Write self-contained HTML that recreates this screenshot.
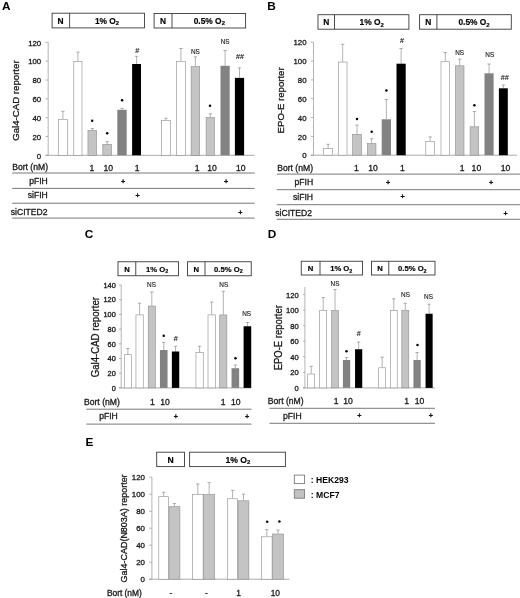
<!DOCTYPE html>
<html lang="en"><head><meta charset="utf-8"><title>Figure</title>
<style>
html,body{margin:0;padding:0;background:#fff;}
body{width:520px;height:598px;overflow:hidden;}
svg{display:block;will-change:transform;font-family:"Liberation Sans", sans-serif;}
</style></head><body>
<svg width="520" height="598" viewBox="0 0 520 598">
<rect width="520" height="598" fill="#fff"/>
<text x="2.00" y="10.20" font-size="11.8" text-anchor="start" font-weight="bold" fill="#000">A</text>
<rect x="52.10" y="13.20" width="92.40" height="14.70" fill="#fff" stroke="#3a3a3a" stroke-width="0.9"/>
<line x1="69.60" y1="13.20" x2="69.60" y2="27.90" stroke="#3a3a3a" stroke-width="0.9"/>
<text x="60.50" y="23.57" font-size="8.4" text-anchor="middle" font-weight="bold" fill="#000" stroke="#000" stroke-width="0.15">N</text>
<text x="107.00" y="23.57" font-size="8.4" text-anchor="middle" font-weight="bold" fill="#000" stroke="#000" stroke-width="0.15">1% O<tspan font-size="70%" dy="1.6">2</tspan></text>
<rect x="154.10" y="13.50" width="91.50" height="14.50" fill="#fff" stroke="#3a3a3a" stroke-width="0.9"/>
<line x1="172.00" y1="13.50" x2="172.00" y2="28.00" stroke="#3a3a3a" stroke-width="0.9"/>
<text x="163.00" y="23.77" font-size="8.4" text-anchor="middle" font-weight="bold" fill="#000" stroke="#000" stroke-width="0.15">N</text>
<text x="209.30" y="23.77" font-size="8.4" text-anchor="middle" font-weight="bold" fill="#000" stroke="#000" stroke-width="0.15">0.5% O<tspan font-size="70%" dy="1.6">2</tspan></text>
<line x1="48.20" y1="42.38" x2="48.20" y2="155.30" stroke="#969696" stroke-width="0.7"/>
<line x1="45.50" y1="155.30" x2="254.70" y2="155.30" stroke="#969696" stroke-width="0.8"/>
<line x1="45.50" y1="155.30" x2="48.20" y2="155.30" stroke="#969696" stroke-width="0.7"/>
<text x="41.20" y="158.50" font-size="7.8" text-anchor="end" stroke="#222" stroke-width="0.3" fill="#111">0</text>
<line x1="46.90" y1="145.89" x2="48.20" y2="145.89" stroke="#c4c4c4" stroke-width="0.5"/>
<line x1="45.50" y1="136.48" x2="48.20" y2="136.48" stroke="#969696" stroke-width="0.7"/>
<text x="41.20" y="139.68" font-size="7.8" text-anchor="end" stroke="#222" stroke-width="0.3" fill="#111">20</text>
<line x1="46.90" y1="127.07" x2="48.20" y2="127.07" stroke="#c4c4c4" stroke-width="0.5"/>
<line x1="45.50" y1="117.66" x2="48.20" y2="117.66" stroke="#969696" stroke-width="0.7"/>
<text x="41.20" y="120.86" font-size="7.8" text-anchor="end" stroke="#222" stroke-width="0.3" fill="#111">40</text>
<line x1="46.90" y1="108.25" x2="48.20" y2="108.25" stroke="#c4c4c4" stroke-width="0.5"/>
<line x1="45.50" y1="98.84" x2="48.20" y2="98.84" stroke="#969696" stroke-width="0.7"/>
<text x="41.20" y="102.04" font-size="7.8" text-anchor="end" stroke="#222" stroke-width="0.3" fill="#111">60</text>
<line x1="46.90" y1="89.43" x2="48.20" y2="89.43" stroke="#c4c4c4" stroke-width="0.5"/>
<line x1="45.50" y1="80.02" x2="48.20" y2="80.02" stroke="#969696" stroke-width="0.7"/>
<text x="41.20" y="83.22" font-size="7.8" text-anchor="end" stroke="#222" stroke-width="0.3" fill="#111">80</text>
<line x1="46.90" y1="70.61" x2="48.20" y2="70.61" stroke="#c4c4c4" stroke-width="0.5"/>
<line x1="45.50" y1="61.20" x2="48.20" y2="61.20" stroke="#969696" stroke-width="0.7"/>
<text x="41.20" y="64.40" font-size="7.8" text-anchor="end" stroke="#222" stroke-width="0.3" fill="#111">100</text>
<line x1="46.90" y1="51.79" x2="48.20" y2="51.79" stroke="#c4c4c4" stroke-width="0.5"/>
<line x1="45.50" y1="42.38" x2="48.20" y2="42.38" stroke="#969696" stroke-width="0.7"/>
<text x="41.20" y="45.58" font-size="7.8" text-anchor="end" stroke="#222" stroke-width="0.3" fill="#111">120</text>
<text transform="translate(18.60,100.60) rotate(-90)" font-size="9.5" text-anchor="middle" fill="#111" stroke="#222" stroke-width="0.3" textLength="80.5" lengthAdjust="spacingAndGlyphs">Gal4-CAD reporter</text>
<line x1="62.90" y1="111.30" x2="62.90" y2="119.00" stroke="#747474" stroke-width="0.55"/>
<line x1="61.20" y1="111.30" x2="64.60" y2="111.30" stroke="#747474" stroke-width="0.55"/>
<rect x="58.40" y="119.30" width="9.00" height="36.00" fill="#ffffff" stroke="#8e8e8e" stroke-width="0.6"/>
<line x1="77.90" y1="52.10" x2="77.90" y2="61.30" stroke="#747474" stroke-width="0.55"/>
<line x1="76.20" y1="52.10" x2="79.60" y2="52.10" stroke="#747474" stroke-width="0.55"/>
<rect x="73.80" y="61.60" width="8.20" height="93.70" fill="#ffffff" stroke="#8e8e8e" stroke-width="0.6"/>
<line x1="92.28" y1="128.50" x2="92.28" y2="130.20" stroke="#747474" stroke-width="0.55"/>
<line x1="90.58" y1="128.50" x2="93.98" y2="128.50" stroke="#747474" stroke-width="0.55"/>
<rect x="87.95" y="130.50" width="8.65" height="24.80" fill="#c4c4c4" stroke="#8e8e8e" stroke-width="0.6"/>
<line x1="107.12" y1="141.60" x2="107.12" y2="144.00" stroke="#747474" stroke-width="0.55"/>
<line x1="105.42" y1="141.60" x2="108.83" y2="141.60" stroke="#747474" stroke-width="0.55"/>
<rect x="102.80" y="144.30" width="8.65" height="11.00" fill="#c4c4c4" stroke="#8e8e8e" stroke-width="0.6"/>
<line x1="122.00" y1="108.40" x2="122.00" y2="109.80" stroke="#747474" stroke-width="0.55"/>
<line x1="120.30" y1="108.40" x2="123.70" y2="108.40" stroke="#747474" stroke-width="0.55"/>
<rect x="117.30" y="109.80" width="9.40" height="45.50" fill="#828282"/>
<line x1="136.55" y1="56.30" x2="136.55" y2="64.00" stroke="#747474" stroke-width="0.55"/>
<line x1="134.85" y1="56.30" x2="138.25" y2="56.30" stroke="#747474" stroke-width="0.55"/>
<rect x="132.10" y="64.00" width="8.90" height="91.30" fill="#000000"/>
<line x1="165.95" y1="118.20" x2="165.95" y2="120.30" stroke="#747474" stroke-width="0.55"/>
<line x1="164.25" y1="118.20" x2="167.65" y2="118.20" stroke="#747474" stroke-width="0.55"/>
<rect x="161.60" y="120.60" width="8.70" height="34.70" fill="#ffffff" stroke="#8e8e8e" stroke-width="0.6"/>
<line x1="180.95" y1="48.50" x2="180.95" y2="61.00" stroke="#747474" stroke-width="0.55"/>
<line x1="179.25" y1="48.50" x2="182.65" y2="48.50" stroke="#747474" stroke-width="0.55"/>
<rect x="176.60" y="61.30" width="8.70" height="94.00" fill="#ffffff" stroke="#8e8e8e" stroke-width="0.6"/>
<line x1="195.40" y1="56.80" x2="195.40" y2="66.30" stroke="#747474" stroke-width="0.55"/>
<line x1="193.70" y1="56.80" x2="197.10" y2="56.80" stroke="#747474" stroke-width="0.55"/>
<rect x="191.10" y="66.60" width="8.60" height="88.70" fill="#c4c4c4" stroke="#8e8e8e" stroke-width="0.6"/>
<line x1="210.25" y1="113.80" x2="210.25" y2="117.30" stroke="#747474" stroke-width="0.55"/>
<line x1="208.55" y1="113.80" x2="211.95" y2="113.80" stroke="#747474" stroke-width="0.55"/>
<rect x="206.10" y="117.60" width="8.30" height="37.70" fill="#c4c4c4" stroke="#8e8e8e" stroke-width="0.6"/>
<line x1="225.10" y1="50.50" x2="225.10" y2="65.80" stroke="#747474" stroke-width="0.55"/>
<line x1="223.40" y1="50.50" x2="226.80" y2="50.50" stroke="#747474" stroke-width="0.55"/>
<rect x="220.50" y="65.80" width="9.20" height="89.50" fill="#828282"/>
<line x1="239.50" y1="67.80" x2="239.50" y2="77.90" stroke="#747474" stroke-width="0.55"/>
<line x1="237.80" y1="67.80" x2="241.20" y2="67.80" stroke="#747474" stroke-width="0.55"/>
<rect x="234.90" y="77.90" width="9.20" height="77.40" fill="#000000"/>
<circle cx="92.20" cy="120.70" r="1.25" fill="#000"/>
<circle cx="107.20" cy="133.30" r="1.25" fill="#000"/>
<circle cx="122.10" cy="100.20" r="1.25" fill="#000"/>
<text x="137.30" y="52.59" font-size="7.2" text-anchor="middle" fill="#111" stroke="#222" stroke-width="0.12">#</text>
<text x="195.40" y="53.80" font-size="6.4" text-anchor="middle" fill="#111" stroke="#222" stroke-width="0.12">NS</text>
<circle cx="210.00" cy="105.80" r="1.25" fill="#000"/>
<text x="225.10" y="44.30" font-size="6.4" text-anchor="middle" fill="#111" stroke="#222" stroke-width="0.12">NS</text>
<text x="240.00" y="59.39" font-size="7.2" text-anchor="middle" fill="#111" stroke="#222" stroke-width="0.12">##</text>
<line x1="12.20" y1="173.00" x2="254.70" y2="173.00" stroke="#555" stroke-width="0.8"/>
<line x1="12.20" y1="188.40" x2="254.70" y2="188.40" stroke="#555" stroke-width="0.8"/>
<line x1="12.20" y1="203.20" x2="254.70" y2="203.20" stroke="#555" stroke-width="0.8"/>
<line x1="12.20" y1="218.10" x2="254.70" y2="218.10" stroke="#555" stroke-width="0.8"/>
<text x="12.20" y="170.30" font-size="8.6" text-anchor="start" stroke="#222" stroke-width="0.3" fill="#111">Bort (nM)</text>
<text x="47.80" y="183.80" font-size="8.6" text-anchor="end" stroke="#222" stroke-width="0.3" fill="#111">pFIH</text>
<text x="47.80" y="198.00" font-size="8.6" text-anchor="end" stroke="#222" stroke-width="0.3" fill="#111">siFIH</text>
<text x="47.60" y="215.20" font-size="8.6" text-anchor="end" stroke="#222" stroke-width="0.3" fill="#111">siCITED2</text>
<text x="91.80" y="170.60" font-size="8.6" text-anchor="middle" stroke="#222" stroke-width="0.3" fill="#111">1</text>
<text x="108.20" y="170.60" font-size="8.6" text-anchor="middle" stroke="#222" stroke-width="0.3" fill="#111">10</text>
<text x="137.20" y="170.60" font-size="8.6" text-anchor="middle" stroke="#222" stroke-width="0.3" fill="#111">1</text>
<text x="197.10" y="170.50" font-size="8.6" text-anchor="middle" stroke="#222" stroke-width="0.3" fill="#111">1</text>
<text x="212.10" y="170.50" font-size="8.6" text-anchor="middle" stroke="#222" stroke-width="0.3" fill="#111">10</text>
<text x="240.80" y="170.50" font-size="8.6" text-anchor="middle" stroke="#222" stroke-width="0.3" fill="#111">10</text>
<text x="123.00" y="183.50" font-size="7.2" text-anchor="middle" fill="#111" stroke="#111" stroke-width="0.45">+</text>
<text x="226.00" y="183.50" font-size="7.2" text-anchor="middle" fill="#111" stroke="#111" stroke-width="0.45">+</text>
<text x="137.70" y="197.70" font-size="7.2" text-anchor="middle" fill="#111" stroke="#111" stroke-width="0.45">+</text>
<text x="240.40" y="214.90" font-size="7.2" text-anchor="middle" fill="#111" stroke="#111" stroke-width="0.45">+</text>
<text x="267.20" y="10.00" font-size="11.8" text-anchor="start" font-weight="bold" fill="#000">B</text>
<rect x="318.00" y="14.70" width="90.90" height="14.50" fill="#fff" stroke="#3a3a3a" stroke-width="0.9"/>
<line x1="334.50" y1="14.70" x2="334.50" y2="29.20" stroke="#3a3a3a" stroke-width="0.9"/>
<text x="326.20" y="24.97" font-size="8.4" text-anchor="middle" font-weight="bold" fill="#000" stroke="#000" stroke-width="0.15">N</text>
<text x="371.70" y="24.97" font-size="8.4" text-anchor="middle" font-weight="bold" fill="#000" stroke="#000" stroke-width="0.15">1% O<tspan font-size="70%" dy="1.6">2</tspan></text>
<rect x="419.60" y="14.70" width="91.70" height="14.50" fill="#fff" stroke="#3a3a3a" stroke-width="0.9"/>
<line x1="436.90" y1="14.70" x2="436.90" y2="29.20" stroke="#3a3a3a" stroke-width="0.9"/>
<text x="428.20" y="24.97" font-size="8.4" text-anchor="middle" font-weight="bold" fill="#000" stroke="#000" stroke-width="0.15">N</text>
<text x="474.00" y="24.97" font-size="8.4" text-anchor="middle" font-weight="bold" fill="#000" stroke="#000" stroke-width="0.15">0.5% O<tspan font-size="70%" dy="1.6">2</tspan></text>
<line x1="313.50" y1="42.28" x2="313.50" y2="155.20" stroke="#969696" stroke-width="0.7"/>
<line x1="310.80" y1="155.20" x2="517.00" y2="155.20" stroke="#969696" stroke-width="0.8"/>
<line x1="310.80" y1="155.20" x2="313.50" y2="155.20" stroke="#969696" stroke-width="0.7"/>
<text x="306.50" y="158.40" font-size="7.8" text-anchor="end" stroke="#222" stroke-width="0.3" fill="#111">0</text>
<line x1="312.20" y1="145.79" x2="313.50" y2="145.79" stroke="#c4c4c4" stroke-width="0.5"/>
<line x1="310.80" y1="136.38" x2="313.50" y2="136.38" stroke="#969696" stroke-width="0.7"/>
<text x="306.50" y="139.58" font-size="7.8" text-anchor="end" stroke="#222" stroke-width="0.3" fill="#111">20</text>
<line x1="312.20" y1="126.97" x2="313.50" y2="126.97" stroke="#c4c4c4" stroke-width="0.5"/>
<line x1="310.80" y1="117.56" x2="313.50" y2="117.56" stroke="#969696" stroke-width="0.7"/>
<text x="306.50" y="120.76" font-size="7.8" text-anchor="end" stroke="#222" stroke-width="0.3" fill="#111">40</text>
<line x1="312.20" y1="108.15" x2="313.50" y2="108.15" stroke="#c4c4c4" stroke-width="0.5"/>
<line x1="310.80" y1="98.74" x2="313.50" y2="98.74" stroke="#969696" stroke-width="0.7"/>
<text x="306.50" y="101.94" font-size="7.8" text-anchor="end" stroke="#222" stroke-width="0.3" fill="#111">60</text>
<line x1="312.20" y1="89.33" x2="313.50" y2="89.33" stroke="#c4c4c4" stroke-width="0.5"/>
<line x1="310.80" y1="79.92" x2="313.50" y2="79.92" stroke="#969696" stroke-width="0.7"/>
<text x="306.50" y="83.12" font-size="7.8" text-anchor="end" stroke="#222" stroke-width="0.3" fill="#111">80</text>
<line x1="312.20" y1="70.51" x2="313.50" y2="70.51" stroke="#c4c4c4" stroke-width="0.5"/>
<line x1="310.80" y1="61.10" x2="313.50" y2="61.10" stroke="#969696" stroke-width="0.7"/>
<text x="306.50" y="64.30" font-size="7.8" text-anchor="end" stroke="#222" stroke-width="0.3" fill="#111">100</text>
<line x1="312.20" y1="51.69" x2="313.50" y2="51.69" stroke="#c4c4c4" stroke-width="0.5"/>
<line x1="310.80" y1="42.28" x2="313.50" y2="42.28" stroke="#969696" stroke-width="0.7"/>
<text x="306.50" y="45.48" font-size="7.8" text-anchor="end" stroke="#222" stroke-width="0.3" fill="#111">120</text>
<text transform="translate(283.70,100.40) rotate(-90)" font-size="9.5" text-anchor="middle" fill="#111" stroke="#222" stroke-width="0.3" textLength="66" lengthAdjust="spacingAndGlyphs">EPO-E reporter</text>
<line x1="328.15" y1="144.30" x2="328.15" y2="148.10" stroke="#747474" stroke-width="0.55"/>
<line x1="326.45" y1="144.30" x2="329.85" y2="144.30" stroke="#747474" stroke-width="0.55"/>
<rect x="323.70" y="148.40" width="8.90" height="6.80" fill="#ffffff" stroke="#8e8e8e" stroke-width="0.6"/>
<line x1="342.70" y1="44.25" x2="342.70" y2="61.75" stroke="#747474" stroke-width="0.55"/>
<line x1="341.00" y1="44.25" x2="344.40" y2="44.25" stroke="#747474" stroke-width="0.55"/>
<rect x="338.40" y="62.05" width="8.60" height="93.15" fill="#ffffff" stroke="#8e8e8e" stroke-width="0.6"/>
<line x1="357.02" y1="125.00" x2="357.02" y2="134.00" stroke="#747474" stroke-width="0.55"/>
<line x1="355.32" y1="125.00" x2="358.72" y2="125.00" stroke="#747474" stroke-width="0.55"/>
<rect x="352.60" y="134.30" width="8.85" height="20.90" fill="#c4c4c4" stroke="#8e8e8e" stroke-width="0.6"/>
<line x1="371.62" y1="138.75" x2="371.62" y2="143.25" stroke="#747474" stroke-width="0.55"/>
<line x1="369.93" y1="138.75" x2="373.32" y2="138.75" stroke="#747474" stroke-width="0.55"/>
<rect x="367.30" y="143.55" width="8.65" height="11.65" fill="#c4c4c4" stroke="#8e8e8e" stroke-width="0.6"/>
<line x1="386.35" y1="99.50" x2="386.35" y2="119.30" stroke="#747474" stroke-width="0.55"/>
<line x1="384.65" y1="99.50" x2="388.05" y2="99.50" stroke="#747474" stroke-width="0.55"/>
<rect x="381.70" y="119.30" width="9.30" height="35.90" fill="#828282"/>
<line x1="401.10" y1="48.50" x2="401.10" y2="63.70" stroke="#747474" stroke-width="0.55"/>
<line x1="399.40" y1="48.50" x2="402.80" y2="48.50" stroke="#747474" stroke-width="0.55"/>
<rect x="396.50" y="63.70" width="9.20" height="91.50" fill="#000000"/>
<line x1="430.20" y1="136.90" x2="430.20" y2="141.30" stroke="#747474" stroke-width="0.55"/>
<line x1="428.50" y1="136.90" x2="431.90" y2="136.90" stroke="#747474" stroke-width="0.55"/>
<rect x="425.80" y="141.60" width="8.80" height="13.60" fill="#ffffff" stroke="#8e8e8e" stroke-width="0.6"/>
<line x1="445.30" y1="52.50" x2="445.30" y2="61.40" stroke="#747474" stroke-width="0.55"/>
<line x1="443.60" y1="52.50" x2="447.00" y2="52.50" stroke="#747474" stroke-width="0.55"/>
<rect x="441.00" y="61.70" width="8.60" height="93.50" fill="#ffffff" stroke="#8e8e8e" stroke-width="0.6"/>
<line x1="459.70" y1="59.10" x2="459.70" y2="65.50" stroke="#747474" stroke-width="0.55"/>
<line x1="458.00" y1="59.10" x2="461.40" y2="59.10" stroke="#747474" stroke-width="0.55"/>
<rect x="455.40" y="65.80" width="8.60" height="89.40" fill="#c4c4c4" stroke="#8e8e8e" stroke-width="0.6"/>
<line x1="474.40" y1="111.50" x2="474.40" y2="126.50" stroke="#747474" stroke-width="0.55"/>
<line x1="472.70" y1="111.50" x2="476.10" y2="111.50" stroke="#747474" stroke-width="0.55"/>
<rect x="470.10" y="126.80" width="8.60" height="28.40" fill="#c4c4c4" stroke="#8e8e8e" stroke-width="0.6"/>
<line x1="489.05" y1="64.00" x2="489.05" y2="73.30" stroke="#747474" stroke-width="0.55"/>
<line x1="487.35" y1="64.00" x2="490.75" y2="64.00" stroke="#747474" stroke-width="0.55"/>
<rect x="484.50" y="73.30" width="9.10" height="81.90" fill="#828282"/>
<line x1="503.35" y1="85.00" x2="503.35" y2="88.30" stroke="#747474" stroke-width="0.55"/>
<line x1="501.65" y1="85.00" x2="505.05" y2="85.00" stroke="#747474" stroke-width="0.55"/>
<rect x="498.90" y="88.30" width="8.90" height="66.90" fill="#000000"/>
<circle cx="357.00" cy="118.90" r="1.25" fill="#000"/>
<circle cx="371.70" cy="131.75" r="1.25" fill="#000"/>
<circle cx="386.40" cy="90.60" r="1.25" fill="#000"/>
<text x="402.00" y="42.99" font-size="7.2" text-anchor="middle" fill="#111" stroke="#222" stroke-width="0.12">#</text>
<text x="459.70" y="54.80" font-size="6.4" text-anchor="middle" fill="#111" stroke="#222" stroke-width="0.12">NS</text>
<circle cx="474.40" cy="105.30" r="1.25" fill="#000"/>
<text x="489.80" y="57.10" font-size="6.4" text-anchor="middle" fill="#111" stroke="#222" stroke-width="0.12">NS</text>
<text x="504.80" y="79.59" font-size="7.2" text-anchor="middle" fill="#111" stroke="#222" stroke-width="0.12">##</text>
<line x1="276.80" y1="174.10" x2="520.00" y2="174.10" stroke="#555" stroke-width="0.8"/>
<line x1="276.80" y1="189.70" x2="520.00" y2="189.70" stroke="#555" stroke-width="0.8"/>
<line x1="276.80" y1="204.70" x2="520.00" y2="204.70" stroke="#555" stroke-width="0.8"/>
<line x1="276.80" y1="219.30" x2="520.00" y2="219.30" stroke="#555" stroke-width="0.8"/>
<text x="277.20" y="171.40" font-size="8.6" text-anchor="start" stroke="#222" stroke-width="0.3" fill="#111">Bort (nM)</text>
<text x="313.10" y="185.20" font-size="8.6" text-anchor="end" stroke="#222" stroke-width="0.3" fill="#111">pFIH</text>
<text x="313.10" y="199.70" font-size="8.6" text-anchor="end" stroke="#222" stroke-width="0.3" fill="#111">siFIH</text>
<text x="312.00" y="216.40" font-size="8.6" text-anchor="end" stroke="#222" stroke-width="0.3" fill="#111">siCITED2</text>
<text x="356.30" y="171.40" font-size="8.6" text-anchor="middle" stroke="#222" stroke-width="0.3" fill="#111">1</text>
<text x="373.00" y="171.40" font-size="8.6" text-anchor="middle" stroke="#222" stroke-width="0.3" fill="#111">10</text>
<text x="402.30" y="171.40" font-size="8.6" text-anchor="middle" stroke="#222" stroke-width="0.3" fill="#111">1</text>
<text x="462.20" y="171.40" font-size="8.6" text-anchor="middle" stroke="#222" stroke-width="0.3" fill="#111">1</text>
<text x="476.40" y="171.40" font-size="8.6" text-anchor="middle" stroke="#222" stroke-width="0.3" fill="#111">10</text>
<text x="505.50" y="171.40" font-size="8.6" text-anchor="middle" stroke="#222" stroke-width="0.3" fill="#111">10</text>
<text x="388.20" y="184.90" font-size="7.2" text-anchor="middle" fill="#111" stroke="#111" stroke-width="0.45">+</text>
<text x="491.10" y="184.90" font-size="7.2" text-anchor="middle" fill="#111" stroke="#111" stroke-width="0.45">+</text>
<text x="402.60" y="199.40" font-size="7.2" text-anchor="middle" fill="#111" stroke="#111" stroke-width="0.45">+</text>
<text x="505.60" y="216.10" font-size="7.2" text-anchor="middle" fill="#111" stroke="#111" stroke-width="0.45">+</text>
<text x="84.80" y="238.40" font-size="11.8" text-anchor="start" font-weight="bold" fill="#000">C</text>
<rect x="118.00" y="261.75" width="60.50" height="14.00" fill="#fff" stroke="#3a3a3a" stroke-width="0.9"/>
<line x1="135.75" y1="261.75" x2="135.75" y2="275.75" stroke="#3a3a3a" stroke-width="0.9"/>
<text x="127.00" y="271.52" font-size="7.7" text-anchor="middle" font-weight="bold" fill="#000" stroke="#000" stroke-width="0.15">N</text>
<text x="157.10" y="271.52" font-size="7.7" text-anchor="middle" font-weight="bold" fill="#000" stroke="#000" stroke-width="0.15">1% O<tspan font-size="70%" dy="1.6">2</tspan></text>
<rect x="187.50" y="261.75" width="63.75" height="14.00" fill="#fff" stroke="#3a3a3a" stroke-width="0.9"/>
<line x1="205.00" y1="261.75" x2="205.00" y2="275.75" stroke="#3a3a3a" stroke-width="0.9"/>
<text x="196.20" y="271.52" font-size="7.7" text-anchor="middle" font-weight="bold" fill="#000" stroke="#000" stroke-width="0.15">N</text>
<text x="228.40" y="271.52" font-size="7.7" text-anchor="middle" font-weight="bold" fill="#000" stroke="#000" stroke-width="0.15">0.5% O<tspan font-size="70%" dy="1.6">2</tspan></text>
<line x1="121.20" y1="285.00" x2="121.20" y2="387.90" stroke="#969696" stroke-width="0.7"/>
<line x1="118.90" y1="387.90" x2="251.50" y2="387.90" stroke="#969696" stroke-width="0.8"/>
<line x1="118.90" y1="387.90" x2="121.20" y2="387.90" stroke="#969696" stroke-width="0.7"/>
<text transform="translate(115.80,390.68) scale(1.1,1)" font-size="6.7" text-anchor="end" stroke="#222" stroke-width="0.3" fill="#111">0</text>
<line x1="118.90" y1="373.20" x2="121.20" y2="373.20" stroke="#969696" stroke-width="0.7"/>
<text transform="translate(115.80,375.98) scale(1.1,1)" font-size="6.7" text-anchor="end" stroke="#222" stroke-width="0.3" fill="#111">20</text>
<line x1="118.90" y1="358.50" x2="121.20" y2="358.50" stroke="#969696" stroke-width="0.7"/>
<text transform="translate(115.80,361.28) scale(1.1,1)" font-size="6.7" text-anchor="end" stroke="#222" stroke-width="0.3" fill="#111">40</text>
<line x1="118.90" y1="343.80" x2="121.20" y2="343.80" stroke="#969696" stroke-width="0.7"/>
<text transform="translate(115.80,346.58) scale(1.1,1)" font-size="6.7" text-anchor="end" stroke="#222" stroke-width="0.3" fill="#111">60</text>
<line x1="118.90" y1="329.10" x2="121.20" y2="329.10" stroke="#969696" stroke-width="0.7"/>
<text transform="translate(115.80,331.88) scale(1.1,1)" font-size="6.7" text-anchor="end" stroke="#222" stroke-width="0.3" fill="#111">80</text>
<line x1="118.90" y1="314.40" x2="121.20" y2="314.40" stroke="#969696" stroke-width="0.7"/>
<text transform="translate(115.80,317.18) scale(1.1,1)" font-size="6.7" text-anchor="end" stroke="#222" stroke-width="0.3" fill="#111">100</text>
<line x1="118.90" y1="299.70" x2="121.20" y2="299.70" stroke="#969696" stroke-width="0.7"/>
<text transform="translate(115.80,302.48) scale(1.1,1)" font-size="6.7" text-anchor="end" stroke="#222" stroke-width="0.3" fill="#111">120</text>
<line x1="118.90" y1="285.00" x2="121.20" y2="285.00" stroke="#969696" stroke-width="0.7"/>
<text transform="translate(115.80,287.78) scale(1.1,1)" font-size="6.7" text-anchor="end" stroke="#222" stroke-width="0.3" fill="#111">140</text>
<text transform="translate(99.20,337.20) rotate(-90)" font-size="10.2" text-anchor="middle" fill="#111" stroke="#222" stroke-width="0.3" textLength="80.3" lengthAdjust="spacingAndGlyphs">Gal4-CAD reporter</text>
<line x1="127.90" y1="348.50" x2="127.90" y2="354.40" stroke="#747474" stroke-width="0.55"/>
<line x1="126.20" y1="348.50" x2="129.60" y2="348.50" stroke="#747474" stroke-width="0.55"/>
<rect x="124.30" y="354.70" width="7.20" height="33.20" fill="#ffffff" stroke="#8e8e8e" stroke-width="0.6"/>
<line x1="139.60" y1="303.25" x2="139.60" y2="314.60" stroke="#747474" stroke-width="0.55"/>
<line x1="137.90" y1="303.25" x2="141.30" y2="303.25" stroke="#747474" stroke-width="0.55"/>
<rect x="135.95" y="314.90" width="7.30" height="73.00" fill="#ffffff" stroke="#8e8e8e" stroke-width="0.6"/>
<line x1="151.80" y1="292.00" x2="151.80" y2="305.75" stroke="#747474" stroke-width="0.55"/>
<line x1="150.10" y1="292.00" x2="153.50" y2="292.00" stroke="#747474" stroke-width="0.55"/>
<rect x="148.25" y="306.05" width="7.10" height="81.85" fill="#c4c4c4" stroke="#8e8e8e" stroke-width="0.6"/>
<line x1="163.75" y1="342.50" x2="163.75" y2="350.00" stroke="#747474" stroke-width="0.55"/>
<line x1="162.05" y1="342.50" x2="165.45" y2="342.50" stroke="#747474" stroke-width="0.55"/>
<rect x="159.95" y="350.00" width="7.60" height="37.90" fill="#828282"/>
<line x1="175.55" y1="346.25" x2="175.55" y2="351.50" stroke="#747474" stroke-width="0.55"/>
<line x1="173.85" y1="346.25" x2="177.25" y2="346.25" stroke="#747474" stroke-width="0.55"/>
<rect x="171.85" y="351.50" width="7.40" height="36.40" fill="#000000"/>
<line x1="199.60" y1="346.25" x2="199.60" y2="352.30" stroke="#747474" stroke-width="0.55"/>
<line x1="197.90" y1="346.25" x2="201.30" y2="346.25" stroke="#747474" stroke-width="0.55"/>
<rect x="195.95" y="352.60" width="7.30" height="35.30" fill="#ffffff" stroke="#8e8e8e" stroke-width="0.6"/>
<line x1="211.65" y1="302.00" x2="211.65" y2="314.60" stroke="#747474" stroke-width="0.55"/>
<line x1="209.95" y1="302.00" x2="213.35" y2="302.00" stroke="#747474" stroke-width="0.55"/>
<rect x="208.00" y="314.90" width="7.30" height="73.00" fill="#ffffff" stroke="#8e8e8e" stroke-width="0.6"/>
<line x1="223.30" y1="291.25" x2="223.30" y2="314.60" stroke="#747474" stroke-width="0.55"/>
<line x1="221.60" y1="291.25" x2="225.00" y2="291.25" stroke="#747474" stroke-width="0.55"/>
<rect x="219.75" y="314.90" width="7.10" height="73.00" fill="#c4c4c4" stroke="#8e8e8e" stroke-width="0.6"/>
<line x1="235.35" y1="365.00" x2="235.35" y2="368.20" stroke="#747474" stroke-width="0.55"/>
<line x1="233.65" y1="365.00" x2="237.05" y2="365.00" stroke="#747474" stroke-width="0.55"/>
<rect x="231.55" y="368.20" width="7.60" height="19.70" fill="#828282"/>
<line x1="247.40" y1="322.50" x2="247.40" y2="326.25" stroke="#747474" stroke-width="0.55"/>
<line x1="245.70" y1="322.50" x2="249.10" y2="322.50" stroke="#747474" stroke-width="0.55"/>
<rect x="243.60" y="326.25" width="7.60" height="61.65" fill="#000000"/>
<text x="151.50" y="286.70" font-size="6.4" text-anchor="middle" fill="#111" stroke="#222" stroke-width="0.12">NS</text>
<circle cx="163.75" cy="335.75" r="1.25" fill="#000"/>
<text x="175.75" y="341.34" font-size="7.2" text-anchor="middle" fill="#111" stroke="#222" stroke-width="0.12">#</text>
<text x="223.75" y="287.30" font-size="6.4" text-anchor="middle" fill="#111" stroke="#222" stroke-width="0.12">NS</text>
<circle cx="235.50" cy="358.25" r="1.25" fill="#000"/>
<text x="246.60" y="315.55" font-size="6.4" text-anchor="middle" fill="#111" stroke="#222" stroke-width="0.12">NS</text>
<line x1="86.30" y1="409.20" x2="251.50" y2="409.20" stroke="#555" stroke-width="0.8"/>
<line x1="86.30" y1="424.10" x2="251.50" y2="424.10" stroke="#555" stroke-width="0.8"/>
<text x="84.00" y="404.80" font-size="8.6" text-anchor="start" stroke="#222" stroke-width="0.3" fill="#111">Bort (nM)</text>
<text x="117.80" y="419.20" font-size="8.6" text-anchor="end" stroke="#222" stroke-width="0.3" fill="#111">pFIH</text>
<text x="152.50" y="404.80" font-size="8.6" text-anchor="middle" stroke="#222" stroke-width="0.3" fill="#111">1</text>
<text x="165.00" y="404.80" font-size="8.6" text-anchor="middle" stroke="#222" stroke-width="0.3" fill="#111">10</text>
<text x="223.25" y="404.80" font-size="8.6" text-anchor="middle" stroke="#222" stroke-width="0.3" fill="#111">1</text>
<text x="235.75" y="404.80" font-size="8.6" text-anchor="middle" stroke="#222" stroke-width="0.3" fill="#111">10</text>
<text x="175.75" y="418.90" font-size="7.2" text-anchor="middle" fill="#111" stroke="#111" stroke-width="0.45">+</text>
<text x="247.00" y="418.90" font-size="7.2" text-anchor="middle" fill="#111" stroke="#111" stroke-width="0.45">+</text>
<text x="267.80" y="238.40" font-size="11.8" text-anchor="start" font-weight="bold" fill="#000">D</text>
<rect x="301.25" y="261.25" width="61.25" height="13.75" fill="#fff" stroke="#3a3a3a" stroke-width="0.9"/>
<line x1="320.00" y1="261.25" x2="320.00" y2="275.00" stroke="#3a3a3a" stroke-width="0.9"/>
<text x="310.60" y="270.90" font-size="7.7" text-anchor="middle" font-weight="bold" fill="#000" stroke="#000" stroke-width="0.15">N</text>
<text x="341.25" y="270.90" font-size="7.7" text-anchor="middle" font-weight="bold" fill="#000" stroke="#000" stroke-width="0.15">1% O<tspan font-size="70%" dy="1.6">2</tspan></text>
<rect x="371.50" y="261.25" width="63.50" height="13.75" fill="#fff" stroke="#3a3a3a" stroke-width="0.9"/>
<line x1="388.75" y1="261.25" x2="388.75" y2="275.00" stroke="#3a3a3a" stroke-width="0.9"/>
<text x="380.10" y="270.90" font-size="7.7" text-anchor="middle" font-weight="bold" fill="#000" stroke="#000" stroke-width="0.15">N</text>
<text x="412.30" y="270.90" font-size="7.7" text-anchor="middle" font-weight="bold" fill="#000" stroke="#000" stroke-width="0.15">0.5% O<tspan font-size="70%" dy="1.6">2</tspan></text>
<line x1="304.90" y1="287.04" x2="304.90" y2="387.90" stroke="#969696" stroke-width="0.7"/>
<line x1="303.00" y1="387.90" x2="435.00" y2="387.90" stroke="#969696" stroke-width="0.8"/>
<line x1="303.00" y1="387.90" x2="304.90" y2="387.90" stroke="#969696" stroke-width="0.7"/>
<text x="298.70" y="391.03" font-size="7.6" text-anchor="end" stroke="#222" stroke-width="0.3" fill="#111">0</text>
<line x1="303.00" y1="372.34" x2="304.90" y2="372.34" stroke="#969696" stroke-width="0.7"/>
<text x="298.70" y="375.47" font-size="7.6" text-anchor="end" stroke="#222" stroke-width="0.3" fill="#111">20</text>
<line x1="303.00" y1="356.78" x2="304.90" y2="356.78" stroke="#969696" stroke-width="0.7"/>
<text x="298.70" y="359.91" font-size="7.6" text-anchor="end" stroke="#222" stroke-width="0.3" fill="#111">40</text>
<line x1="303.00" y1="341.22" x2="304.90" y2="341.22" stroke="#969696" stroke-width="0.7"/>
<text x="298.70" y="344.35" font-size="7.6" text-anchor="end" stroke="#222" stroke-width="0.3" fill="#111">60</text>
<line x1="303.00" y1="325.66" x2="304.90" y2="325.66" stroke="#969696" stroke-width="0.7"/>
<text x="298.70" y="328.79" font-size="7.6" text-anchor="end" stroke="#222" stroke-width="0.3" fill="#111">80</text>
<line x1="303.00" y1="310.10" x2="304.90" y2="310.10" stroke="#969696" stroke-width="0.7"/>
<text x="298.70" y="313.23" font-size="7.6" text-anchor="end" stroke="#222" stroke-width="0.3" fill="#111">100</text>
<line x1="303.00" y1="294.54" x2="304.90" y2="294.54" stroke="#969696" stroke-width="0.7"/>
<text x="298.70" y="297.67" font-size="7.6" text-anchor="end" stroke="#222" stroke-width="0.3" fill="#111">120</text>
<text transform="translate(281.90,337.70) rotate(-90)" font-size="10.4" text-anchor="middle" fill="#111" stroke="#222" stroke-width="0.3" textLength="65.2" lengthAdjust="spacingAndGlyphs">EPO-E reporter</text>
<line x1="311.20" y1="366.25" x2="311.20" y2="373.75" stroke="#747474" stroke-width="0.55"/>
<line x1="309.50" y1="366.25" x2="312.90" y2="366.25" stroke="#747474" stroke-width="0.55"/>
<rect x="307.70" y="374.05" width="7.00" height="13.85" fill="#ffffff" stroke="#8e8e8e" stroke-width="0.6"/>
<line x1="323.20" y1="297.50" x2="323.20" y2="310.25" stroke="#747474" stroke-width="0.55"/>
<line x1="321.50" y1="297.50" x2="324.90" y2="297.50" stroke="#747474" stroke-width="0.55"/>
<rect x="319.70" y="310.55" width="7.00" height="77.35" fill="#ffffff" stroke="#8e8e8e" stroke-width="0.6"/>
<line x1="335.00" y1="289.50" x2="335.00" y2="310.25" stroke="#747474" stroke-width="0.55"/>
<line x1="333.30" y1="289.50" x2="336.70" y2="289.50" stroke="#747474" stroke-width="0.55"/>
<rect x="331.50" y="310.55" width="7.00" height="77.35" fill="#c4c4c4" stroke="#8e8e8e" stroke-width="0.6"/>
<line x1="346.55" y1="357.50" x2="346.55" y2="360.00" stroke="#747474" stroke-width="0.55"/>
<line x1="344.85" y1="357.50" x2="348.25" y2="357.50" stroke="#747474" stroke-width="0.55"/>
<rect x="342.90" y="360.00" width="7.30" height="27.90" fill="#828282"/>
<line x1="358.65" y1="342.00" x2="358.65" y2="349.25" stroke="#747474" stroke-width="0.55"/>
<line x1="356.95" y1="342.00" x2="360.35" y2="342.00" stroke="#747474" stroke-width="0.55"/>
<rect x="355.05" y="349.25" width="7.20" height="38.65" fill="#000000"/>
<line x1="382.20" y1="357.20" x2="382.20" y2="367.50" stroke="#747474" stroke-width="0.55"/>
<line x1="380.50" y1="357.20" x2="383.90" y2="357.20" stroke="#747474" stroke-width="0.55"/>
<rect x="378.70" y="367.80" width="7.00" height="20.10" fill="#ffffff" stroke="#8e8e8e" stroke-width="0.6"/>
<line x1="393.75" y1="298.75" x2="393.75" y2="310.00" stroke="#747474" stroke-width="0.55"/>
<line x1="392.05" y1="298.75" x2="395.45" y2="298.75" stroke="#747474" stroke-width="0.55"/>
<rect x="390.30" y="310.30" width="6.90" height="77.60" fill="#ffffff" stroke="#8e8e8e" stroke-width="0.6"/>
<line x1="405.30" y1="303.25" x2="405.30" y2="310.00" stroke="#747474" stroke-width="0.55"/>
<line x1="403.60" y1="303.25" x2="407.00" y2="303.25" stroke="#747474" stroke-width="0.55"/>
<rect x="401.80" y="310.30" width="7.00" height="77.60" fill="#c4c4c4" stroke="#8e8e8e" stroke-width="0.6"/>
<line x1="417.10" y1="352.50" x2="417.10" y2="360.00" stroke="#747474" stroke-width="0.55"/>
<line x1="415.40" y1="352.50" x2="418.80" y2="352.50" stroke="#747474" stroke-width="0.55"/>
<rect x="413.45" y="360.00" width="7.30" height="27.90" fill="#828282"/>
<line x1="429.10" y1="304.25" x2="429.10" y2="313.75" stroke="#747474" stroke-width="0.55"/>
<line x1="427.40" y1="304.25" x2="430.80" y2="304.25" stroke="#747474" stroke-width="0.55"/>
<rect x="425.55" y="313.75" width="7.10" height="74.15" fill="#000000"/>
<text x="335.00" y="286.30" font-size="6.4" text-anchor="middle" fill="#111" stroke="#222" stroke-width="0.12">NS</text>
<circle cx="346.50" cy="351.25" r="1.25" fill="#000"/>
<text x="358.75" y="336.09" font-size="7.2" text-anchor="middle" fill="#111" stroke="#222" stroke-width="0.12">#</text>
<text x="405.50" y="296.80" font-size="6.4" text-anchor="middle" fill="#111" stroke="#222" stroke-width="0.12">NS</text>
<circle cx="417.50" cy="345.00" r="1.25" fill="#000"/>
<text x="428.50" y="299.05" font-size="6.4" text-anchor="middle" fill="#111" stroke="#222" stroke-width="0.12">NS</text>
<line x1="269.50" y1="408.30" x2="435.00" y2="408.30" stroke="#555" stroke-width="0.8"/>
<line x1="269.50" y1="423.30" x2="435.00" y2="423.30" stroke="#555" stroke-width="0.8"/>
<text x="267.80" y="404.20" font-size="8.6" text-anchor="start" stroke="#222" stroke-width="0.3" fill="#111">Bort (nM)</text>
<text x="301.60" y="418.70" font-size="8.6" text-anchor="end" stroke="#222" stroke-width="0.3" fill="#111">pFIH</text>
<text x="336.25" y="404.20" font-size="8.6" text-anchor="middle" stroke="#222" stroke-width="0.3" fill="#111">1</text>
<text x="348.00" y="404.20" font-size="8.6" text-anchor="middle" stroke="#222" stroke-width="0.3" fill="#111">10</text>
<text x="406.75" y="404.20" font-size="8.6" text-anchor="middle" stroke="#222" stroke-width="0.3" fill="#111">1</text>
<text x="419.50" y="404.20" font-size="8.6" text-anchor="middle" stroke="#222" stroke-width="0.3" fill="#111">10</text>
<text x="359.25" y="418.40" font-size="7.2" text-anchor="middle" fill="#111" stroke="#111" stroke-width="0.45">+</text>
<text x="430.75" y="418.40" font-size="7.2" text-anchor="middle" fill="#111" stroke="#111" stroke-width="0.45">+</text>
<text x="85.60" y="445.70" font-size="11.8" text-anchor="start" font-weight="bold" fill="#000">E</text>
<rect x="156.70" y="452.20" width="27.80" height="14.40" fill="#fff" stroke="#3a3a3a" stroke-width="0.9"/>
<text x="170.60" y="462.50" font-size="8.6" text-anchor="middle" font-weight="bold" fill="#000" stroke="#000" stroke-width="0.15">N</text>
<rect x="189.60" y="452.20" width="95.80" height="14.40" fill="#fff" stroke="#3a3a3a" stroke-width="0.9"/>
<text x="238.00" y="462.50" font-size="8.6" text-anchor="middle" font-weight="bold" fill="#000" stroke="#000" stroke-width="0.15">1% O<tspan font-size="70%" dy="1.6">2</tspan></text>
<line x1="151.90" y1="477.20" x2="151.90" y2="579.20" stroke="#969696" stroke-width="0.7"/>
<line x1="149.10" y1="579.20" x2="289.50" y2="579.20" stroke="#969696" stroke-width="0.8"/>
<line x1="149.10" y1="579.20" x2="151.90" y2="579.20" stroke="#969696" stroke-width="0.7"/>
<text x="145.00" y="582.44" font-size="7.9" text-anchor="end" stroke="#222" stroke-width="0.3" fill="#111">0</text>
<line x1="149.10" y1="562.20" x2="151.90" y2="562.20" stroke="#969696" stroke-width="0.7"/>
<text x="145.00" y="565.44" font-size="7.9" text-anchor="end" stroke="#222" stroke-width="0.3" fill="#111">20</text>
<line x1="149.10" y1="545.20" x2="151.90" y2="545.20" stroke="#969696" stroke-width="0.7"/>
<text x="145.00" y="548.44" font-size="7.9" text-anchor="end" stroke="#222" stroke-width="0.3" fill="#111">40</text>
<line x1="149.10" y1="528.20" x2="151.90" y2="528.20" stroke="#969696" stroke-width="0.7"/>
<text x="145.00" y="531.44" font-size="7.9" text-anchor="end" stroke="#222" stroke-width="0.3" fill="#111">60</text>
<line x1="149.10" y1="511.20" x2="151.90" y2="511.20" stroke="#969696" stroke-width="0.7"/>
<text x="145.00" y="514.44" font-size="7.9" text-anchor="end" stroke="#222" stroke-width="0.3" fill="#111">80</text>
<line x1="149.10" y1="494.20" x2="151.90" y2="494.20" stroke="#969696" stroke-width="0.7"/>
<text x="145.00" y="497.44" font-size="7.9" text-anchor="end" stroke="#222" stroke-width="0.3" fill="#111">100</text>
<line x1="149.10" y1="477.20" x2="151.90" y2="477.20" stroke="#969696" stroke-width="0.7"/>
<text x="145.00" y="480.44" font-size="7.9" text-anchor="end" stroke="#222" stroke-width="0.3" fill="#111">120</text>
<text transform="translate(126.60,528.40) rotate(-90)" font-size="8.5" text-anchor="middle" fill="#111" stroke="#222" stroke-width="0.3" textLength="108" lengthAdjust="spacingAndGlyphs">Gal4-CAD(N803A) reporter</text>
<line x1="163.65" y1="492.20" x2="163.65" y2="496.40" stroke="#747474" stroke-width="0.55"/>
<line x1="161.95" y1="492.20" x2="165.35" y2="492.20" stroke="#747474" stroke-width="0.55"/>
<rect x="158.80" y="496.70" width="9.70" height="82.50" fill="#ffffff" stroke="#8e8e8e" stroke-width="0.6"/>
<line x1="174.45" y1="503.50" x2="174.45" y2="506.40" stroke="#747474" stroke-width="0.55"/>
<line x1="172.75" y1="503.50" x2="176.15" y2="503.50" stroke="#747474" stroke-width="0.55"/>
<rect x="169.00" y="506.70" width="10.90" height="72.50" fill="#c4c4c4" stroke="#8e8e8e" stroke-width="0.6"/>
<line x1="197.85" y1="484.00" x2="197.85" y2="494.20" stroke="#747474" stroke-width="0.55"/>
<line x1="196.15" y1="484.00" x2="199.55" y2="484.00" stroke="#747474" stroke-width="0.55"/>
<rect x="192.60" y="494.50" width="10.50" height="84.70" fill="#ffffff" stroke="#8e8e8e" stroke-width="0.6"/>
<line x1="209.15" y1="482.60" x2="209.15" y2="494.20" stroke="#747474" stroke-width="0.55"/>
<line x1="207.45" y1="482.60" x2="210.85" y2="482.60" stroke="#747474" stroke-width="0.55"/>
<rect x="203.60" y="494.50" width="11.10" height="84.70" fill="#c4c4c4" stroke="#8e8e8e" stroke-width="0.6"/>
<line x1="232.60" y1="490.40" x2="232.60" y2="498.50" stroke="#747474" stroke-width="0.55"/>
<line x1="230.90" y1="490.40" x2="234.30" y2="490.40" stroke="#747474" stroke-width="0.55"/>
<rect x="227.60" y="498.80" width="10.00" height="80.40" fill="#ffffff" stroke="#8e8e8e" stroke-width="0.6"/>
<line x1="243.50" y1="494.20" x2="243.50" y2="500.50" stroke="#747474" stroke-width="0.55"/>
<line x1="241.80" y1="494.20" x2="245.20" y2="494.20" stroke="#747474" stroke-width="0.55"/>
<rect x="238.10" y="500.80" width="10.80" height="78.40" fill="#c4c4c4" stroke="#8e8e8e" stroke-width="0.6"/>
<line x1="266.85" y1="529.60" x2="266.85" y2="536.50" stroke="#747474" stroke-width="0.55"/>
<line x1="265.15" y1="529.60" x2="268.55" y2="529.60" stroke="#747474" stroke-width="0.55"/>
<rect x="261.60" y="536.80" width="10.50" height="42.40" fill="#ffffff" stroke="#8e8e8e" stroke-width="0.6"/>
<line x1="278.05" y1="530.00" x2="278.05" y2="533.70" stroke="#747474" stroke-width="0.55"/>
<line x1="276.35" y1="530.00" x2="279.75" y2="530.00" stroke="#747474" stroke-width="0.55"/>
<rect x="272.60" y="534.00" width="10.90" height="45.20" fill="#c4c4c4" stroke="#8e8e8e" stroke-width="0.6"/>
<circle cx="267.20" cy="521.80" r="1.25" fill="#000"/>
<circle cx="279.40" cy="521.40" r="1.25" fill="#000"/>
<text x="106.90" y="595.85" font-size="8.4" text-anchor="start" stroke="#222" stroke-width="0.3" fill="#111">Bort (nM)</text>
<text x="170.80" y="595.85" font-size="8.4" text-anchor="middle" stroke="#222" stroke-width="0.3" fill="#111">-</text>
<text x="206.30" y="595.85" font-size="8.4" text-anchor="middle" stroke="#222" stroke-width="0.3" fill="#111">-</text>
<text x="238.70" y="595.85" font-size="8.4" text-anchor="middle" stroke="#222" stroke-width="0.3" fill="#111">1</text>
<text x="275.30" y="595.85" font-size="8.4" text-anchor="middle" stroke="#222" stroke-width="0.3" fill="#111">10</text>
<rect x="294.30" y="475.10" width="10.30" height="8.50" fill="#fff" stroke="#777" stroke-width="0.85"/>
<rect x="294.30" y="489.70" width="10.30" height="8.50" fill="#c2c2c2" stroke="#777" stroke-width="0.85"/>
<text x="310.80" y="483.00" font-size="8.6" text-anchor="start" font-weight="bold" fill="#000">: HEK293</text>
<text x="310.80" y="497.90" font-size="8.6" text-anchor="start" font-weight="bold" fill="#000">: MCF7</text>
</svg></body></html>
